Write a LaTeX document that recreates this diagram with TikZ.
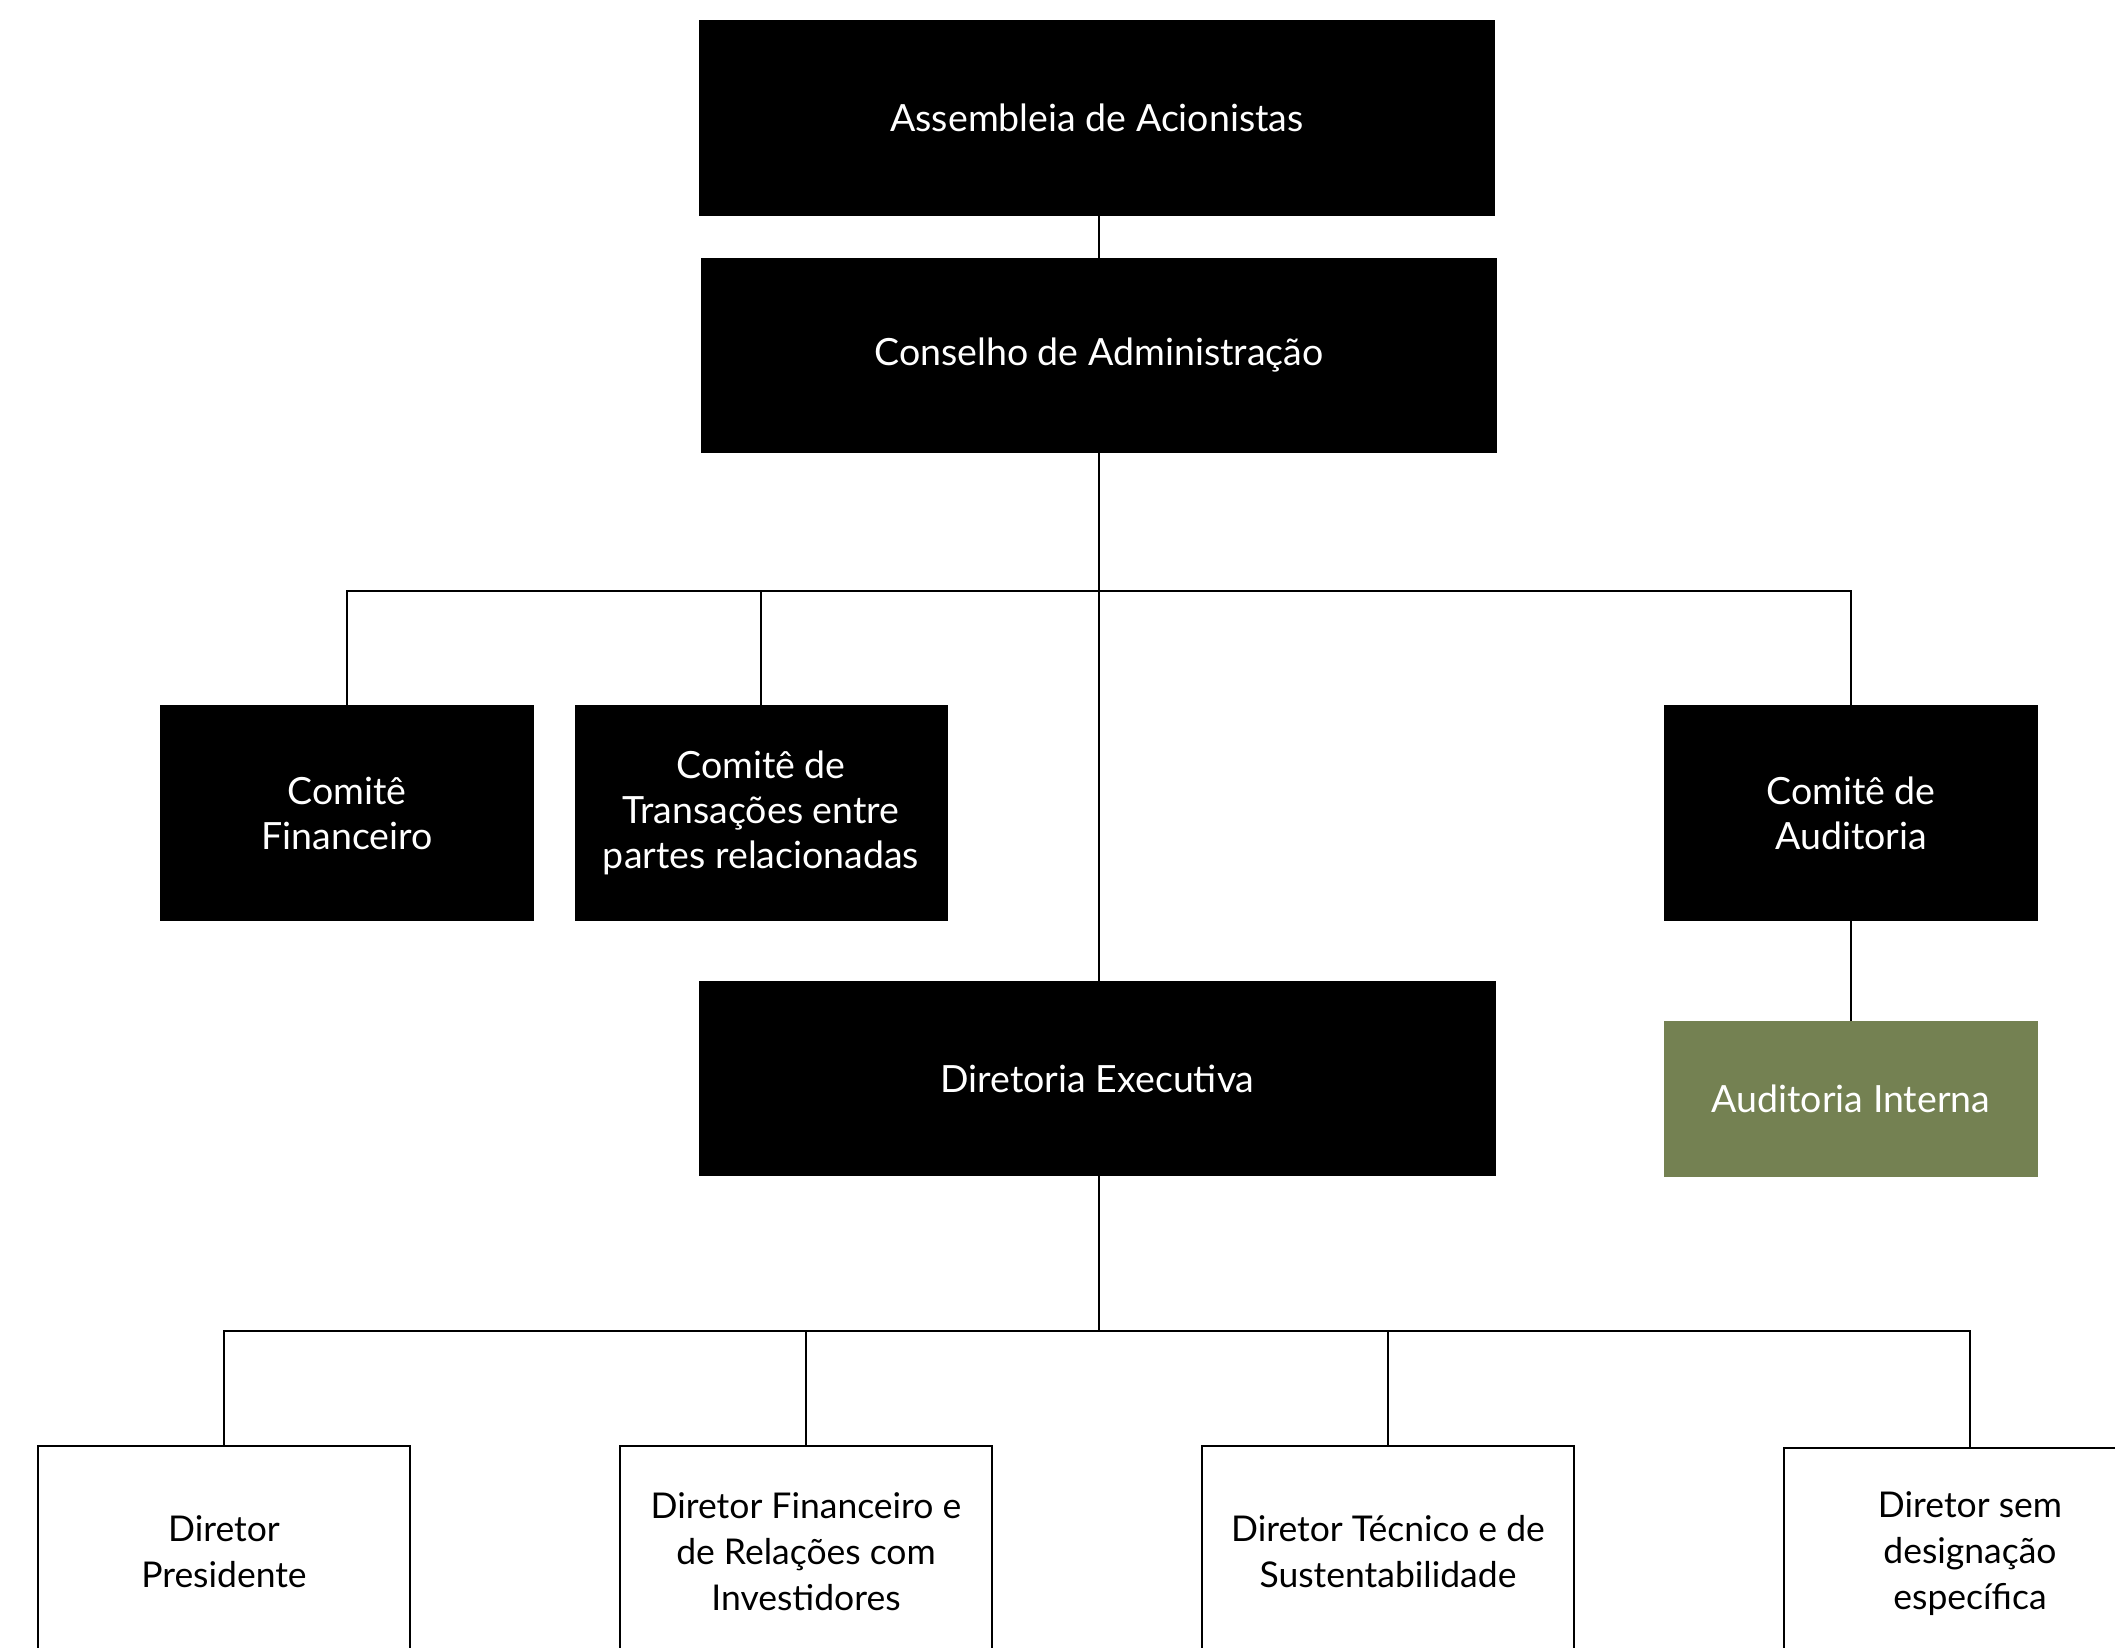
\documentclass[tikz,border=0pt]{standalone}
\usepackage{fontspec}
\setmainfont{Lato}
\definecolor{olive}{RGB}{116,129,82}
\begin{document}
\begin{tikzpicture}[x=1pt,y=-1pt,
  box/.style={rectangle, inner sep=0pt, align=center, font=\fontsize{37.5}{45}\selectfont},
  darkbox/.style={box, fill=black, text=white},
  greenbox/.style={box, fill=olive, text=white},
  outbox/.style={box, draw=black, line width=2.5pt, fill=white, text=black, font=\fontsize{35.5}{46}\selectfont},
  link/.style={draw=black, line width=2pt}]
\useasboundingbox (0,0) rectangle (2115,1648);
\fill[white] (0,0) rectangle (2115,1648);
\node[darkbox, minimum width=796pt, minimum height=196pt] (asm) at (1097,118) {Assembleia de Acionistas};
\node[darkbox, minimum width=796pt, minimum height=195pt] (cons) at (1099,355.5) {Conselho de Administração};
\node[darkbox, minimum width=374pt, minimum height=216pt] (cf) at (347,813) {Comitê\\Financeiro};
\node[darkbox, minimum width=373pt, minimum height=216pt] (ct) at (761,813) {Comitê de\\Transações entre\\partes relacionadas};
\node[darkbox, minimum width=374pt, minimum height=216pt] (ca) at (1851,813) {Comitê de\\Auditoria};
\node[darkbox, minimum width=797pt, minimum height=195pt] (de) at (1097.5,1078.5) {Diretoria Executiva};
\node[greenbox, minimum width=374pt, minimum height=156pt] (ai) at (1851,1099) {Auditoria Interna};
\node[outbox, minimum width=372pt, minimum height=212pt] (d1) at (224,1552) {Diretor\\Presidente};
\node[outbox, minimum width=372pt, minimum height=212pt] (d2) at (806,1552) {Diretor Financeiro e\\de Relações com\\Investidores};
\node[outbox, minimum width=372pt, minimum height=212pt] (d3) at (1388,1552) {Diretor Técnico e de\\Sustentabilidade};
\node[outbox, minimum width=372pt, minimum height=212pt] (d4) at (1970,1554) {Diretor sem\\designação\\específica};
\coordinate (bus1) at (1099,591);
\coordinate (bus2) at (1099,1331);
\draw[link] (cons.north |- asm.south) -- (cons.north);
\draw[link] (cons.south) -- (cons.south |- de.north);
\draw[link] (cf.north) |- (bus1) -| (ca.north);
\draw[link] (ct.north) -- (ct.north |- bus1);
\draw[link] (ca.south) -- (ai.north);
\draw[link] (cons.south |- de.south) -- (bus2);
\draw[link] (d1.north) |- (bus2) -| (d4.north);
\draw[link] (d2.north) -- (d2.north |- bus2);
\draw[link] (d3.north) -- (d3.north |- bus2);
\end{tikzpicture}
\end{document}
